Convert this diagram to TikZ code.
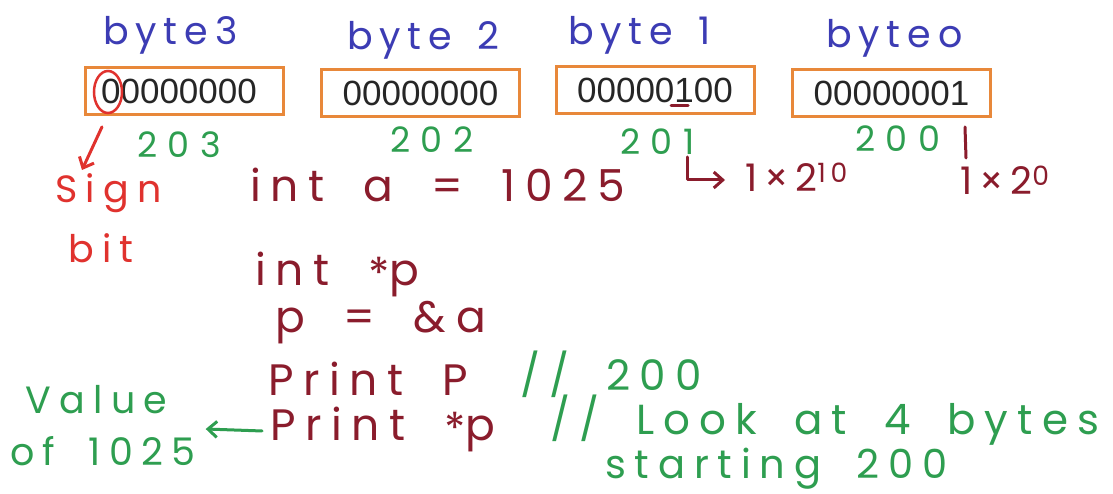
\documentclass[tikz,border=0pt]{standalone}
\usepackage{fontspec}
\setmainfont{Liberation Sans}
\newfontfamily\handL[LetterSpace=18,WordSpace=1.5]{Poppins}
\newfontfamily\handC[LetterSpace=22,WordSpace=1.8]{Poppins}
\newfontfamily\handW[LetterSpace=30]{Poppins}
\usetikzlibrary{arrows.meta}
\definecolor{bblue}{HTML}{3C3CB4}
\definecolor{bgreen}{HTML}{2E9E50}
\definecolor{dred}{HTML}{8A1C2C}
\definecolor{rred}{HTML}{E0322E}
\definecolor{borange}{HTML}{E8883A}
\tikzset{
  hw/.style={inner sep=0pt, anchor=base west},
  lab/.style={hw, text=bblue, font=\handL\fontsize{38}{38}\selectfont},
  addr/.style={hw, text=bgreen, font=\handW\fontsize{35}{35}\selectfont},
  code/.style={hw, text=dred, font=\handC\fontsize{44}{44}\selectfont},
  cmt/.style={hw, text=bgreen, font=\handC\fontsize{#1}{#1}\selectfont},
  signtxt/.style={hw, text=rred, font=\handC\fontsize{38}{38}\selectfont},
  pow/.style={hw, text=dred, font=\handL\fontsize{38}{38}\selectfont},
  bytebox/.style={draw=borange, line width=3pt, minimum width=198pt, minimum height=47pt, inner sep=0pt, font=\fontsize{35}{35}\selectfont, text=black!85},
  pen/.style={line width=3pt, line cap=round, line join=round},
  tip/.style={-{Straight Barb[length=9pt,width=16pt]}}
}
\begin{document}
\begin{tikzpicture}[x=1pt,y=-1pt]
\useasboundingbox[fill=white] (0,0) rectangle (1113,494);
% byte labels
\node[lab] (l3) at (103,45) {byte3};
\node[lab] (l2) at (347,50) {byte 2};
\node[lab] (l1) at (568,45) {byte 1};
\node[lab] (l0) at (826,48) {byteo};
% boxes
\node[bytebox] (b3) at (184,91.5) {00000000\hspace*{10pt}};
\node[bytebox] (b2) at (420.5,93.5) {00000000};
\node[bytebox] (b1) at (655,90.5) {00000100};
\node[bytebox] (b0) at (891.5,93.5) {\raisebox{-4pt}{00000001}};
% sign bit circle and arrow
\node[draw=rred, line width=2.5pt, circle, minimum size=28pt, inner sep=0pt, yscale=1.5] (sb) at (108,92) {};
\node[signtxt] (s1) at (55,203) {Sign};
\node[signtxt] (s2) at (68,262) {bit};
\draw[pen, rred, tip] ([xshift=-6pt,yshift=-12pt]sb.south) -- ([xshift=27pt,yshift=33pt]s1.base west);
% underline of the 1
\coordinate (u1) at (671,106);
\coordinate (u2) at (688,106);
\draw[pen, dred] (u1) -- (u2);
% addresses
\node[addr] (a3) at (137,158) {203};
\node[addr] (a2) at (390,153) {202};
\node[addr] (a1) at (620,155) {201};
\node[addr] (a0) at (855,152) {200};
\coordinate (v1) at (965,127);
\coordinate (v2) at (966,158);
\draw[pen, dred] (v1) -- (v2);
% powers
\node[pow] (p10) at (745,192) {1×2\textsuperscript{10}};
\node[pow] (p0) at (960,195) {1×2\textsuperscript{0}};
\coordinate (h1) at (687,157);
\draw[pen, dred, tip] (h1) |- ([xshift=-20pt,yshift=12pt]p10.base west);
% code
\node[code] (c1) at (250,202) {int a = 1025};
\node[code] (c2) at (255,285) {int \raisebox{-4pt}{*}p};
\node[code] (c3) at (275,332) {p = \&a};
\node[code] (c4) at (268,395) {Print P};
\node[code] (c5) at (270,440) {Print \raisebox{-4pt}{*}p};
% comments
\node[cmt=42] (k1) at (520,390) {// 200};
\node[cmt=42] (k2) at (550,434) {// Look at 4 bytes};
\node[cmt=40] (k3) at (605,478) {starting 200};
% value
\node[cmt=38] (v1t) at (25,413) {Value};
\node[cmt=38] (v2t) at (10,465) {of 1025};
\draw[pen, bgreen, tip] ([xshift=-8pt,yshift=-2pt]c5.west) -- ([xshift=10pt,yshift=36pt]v2t.base east);
\end{tikzpicture}
\end{document}
